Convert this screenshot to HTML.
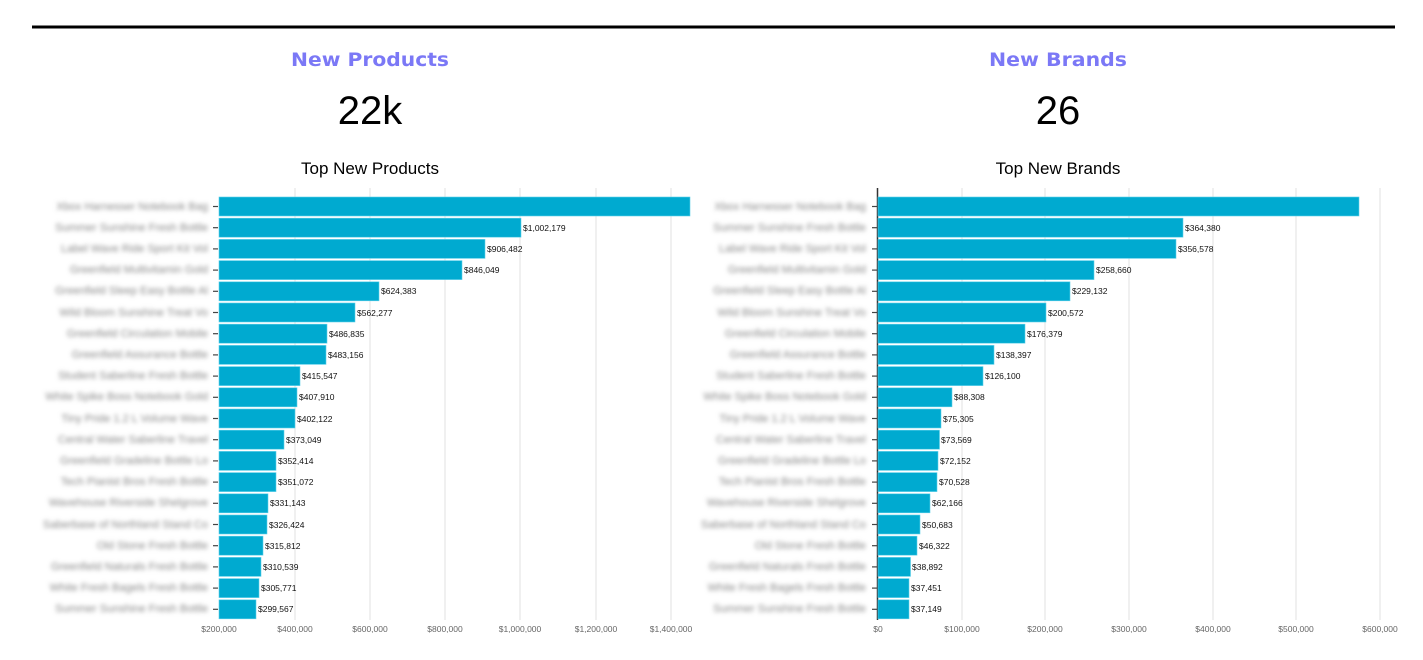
<!DOCTYPE html>
<html><head><meta charset="utf-8"><style>
body{margin:0;background:#fff;width:1423px;height:655px;overflow:hidden;font-family:"Liberation Sans",sans-serif}
</style></head><body>
<svg width="1423" height="655" xmlns="http://www.w3.org/2000/svg" font-family="Liberation Sans, sans-serif">
<defs><filter id="b" x="-10%" y="-50%" width="120%" height="200%"><feGaussianBlur stdDeviation="2.2"/></filter></defs>
<rect x="32" y="25.5" width="1363" height="3" fill="#000"/>
<text x="291" y="66" textLength="158" lengthAdjust="spacingAndGlyphs" font-family="DejaVu Sans, sans-serif" font-size="19" font-weight="bold" fill="#7b78f6">New Products</text>
<text x="989" y="66" textLength="138" lengthAdjust="spacingAndGlyphs" font-family="DejaVu Sans, sans-serif" font-size="19" font-weight="bold" fill="#7b78f6">New Brands</text>
<text x="370" y="124" text-anchor="middle" font-size="40" fill="#000">22k</text>
<text x="1058" y="124" text-anchor="middle" font-size="40" fill="#000">26</text>
<text x="370" y="174" text-anchor="middle" font-size="17" fill="#000">Top New Products</text>
<text x="1058" y="174" text-anchor="middle" font-size="17" fill="#000">Top New Brands</text>

<g stroke="#e2e2e2" stroke-width="1">
<line x1="295" y1="188" x2="295" y2="620"/><line x1="370" y1="188" x2="370" y2="620"/><line x1="445" y1="188" x2="445" y2="620"/><line x1="520" y1="188" x2="520" y2="620"/><line x1="596" y1="188" x2="596" y2="620"/><line x1="671" y1="188" x2="671" y2="620"/>
<line x1="962" y1="188" x2="962" y2="620"/><line x1="1045" y1="188" x2="1045" y2="620"/><line x1="1129" y1="188" x2="1129" y2="620"/><line x1="1213" y1="188" x2="1213" y2="620"/><line x1="1296" y1="188" x2="1296" y2="620"/><line x1="1380" y1="188" x2="1380" y2="620"/>
</g>
<g font-size="8.5" fill="#666" text-anchor="middle">
<text x="219" y="632">$200,000</text><text x="295" y="632">$400,000</text><text x="370" y="632">$600,000</text><text x="445" y="632">$800,000</text><text x="520" y="632">$1,000,000</text><text x="596" y="632">$1,200,000</text><text x="671" y="632">$1,400,000</text>
<text x="878" y="632">$0</text><text x="962" y="632">$100,000</text><text x="1045" y="632">$200,000</text><text x="1129" y="632">$300,000</text><text x="1213" y="632">$400,000</text><text x="1296" y="632">$500,000</text><text x="1380" y="632">$600,000</text>
</g>
<line x1="877.5" y1="188" x2="877.5" y2="620" stroke="#333" stroke-width="1.5"/>

<g fill="#00aad0" stroke="#5fd0ea" stroke-width="0.6">
<rect x="219" y="197" width="471" height="19"/>
<rect x="219" y="218.2" width="302" height="19"/>
<rect x="219" y="239.4" width="266" height="19"/>
<rect x="219" y="260.6" width="243" height="19"/>
<rect x="219" y="281.8" width="160" height="19"/>
<rect x="219" y="303" width="136" height="19"/>
<rect x="219" y="324.2" width="108" height="19"/>
<rect x="219" y="345.4" width="107" height="19"/>
<rect x="219" y="366.6" width="81" height="19"/>
<rect x="219" y="387.8" width="78" height="19"/>
<rect x="219" y="409" width="76" height="19"/>
<rect x="219" y="430.2" width="65" height="19"/>
<rect x="219" y="451.4" width="57" height="19"/>
<rect x="219" y="472.6" width="57" height="19"/>
<rect x="219" y="493.8" width="49" height="19"/>
<rect x="219" y="515" width="48" height="19"/>
<rect x="219" y="536.2" width="44" height="19"/>
<rect x="219" y="557.4" width="42" height="19"/>
<rect x="219" y="578.6" width="40" height="19"/>
<rect x="219" y="599.8" width="37" height="19"/>

<rect x="878" y="197" width="481" height="19"/>
<rect x="878" y="218.2" width="305" height="19"/>
<rect x="878" y="239.4" width="298" height="19"/>
<rect x="878" y="260.6" width="216" height="19"/>
<rect x="878" y="281.8" width="192" height="19"/>
<rect x="878" y="303" width="168" height="19"/>
<rect x="878" y="324.2" width="147" height="19"/>
<rect x="878" y="345.4" width="116" height="19"/>
<rect x="878" y="366.6" width="105" height="19"/>
<rect x="878" y="387.8" width="74" height="19"/>
<rect x="878" y="409" width="63" height="19"/>
<rect x="878" y="430.2" width="61.5" height="19"/>
<rect x="878" y="451.4" width="60" height="19"/>
<rect x="878" y="472.6" width="59" height="19"/>
<rect x="878" y="493.8" width="52" height="19"/>
<rect x="878" y="515" width="42" height="19"/>
<rect x="878" y="536.2" width="39" height="19"/>
<rect x="878" y="557.4" width="32.5" height="19"/>
<rect x="878" y="578.6" width="31" height="19"/>
<rect x="878" y="599.8" width="31" height="19"/>
</g>

<g font-size="8.5" fill="#111">
<text x="523" y="231">$1,002,179</text>
<text x="487" y="252">$906,482</text>
<text x="464" y="273">$846,049</text>
<text x="381" y="294">$624,383</text>
<text x="357" y="316">$562,277</text>
<text x="329" y="337">$486,835</text>
<text x="328" y="358">$483,156</text>
<text x="302" y="379">$415,547</text>
<text x="299" y="400">$407,910</text>
<text x="297" y="422">$402,122</text>
<text x="286" y="443">$373,049</text>
<text x="278" y="464">$352,414</text>
<text x="278" y="485">$351,072</text>
<text x="270" y="506">$331,143</text>
<text x="269" y="528">$326,424</text>
<text x="265" y="549">$315,812</text>
<text x="263" y="570">$310,539</text>
<text x="261" y="591">$305,771</text>
<text x="258" y="612">$299,567</text>

<text x="1185" y="231">$364,380</text>
<text x="1178" y="252">$356,578</text>
<text x="1096" y="273">$258,660</text>
<text x="1072" y="294">$229,132</text>
<text x="1048" y="316">$200,572</text>
<text x="1027" y="337">$176,379</text>
<text x="996" y="358">$138,397</text>
<text x="985" y="379">$126,100</text>
<text x="954" y="400">$88,308</text>
<text x="943" y="422">$75,305</text>
<text x="941" y="443">$73,569</text>
<text x="940" y="464">$72,152</text>
<text x="939" y="485">$70,528</text>
<text x="932" y="506">$62,166</text>
<text x="922" y="528">$50,683</text>
<text x="919" y="549">$46,322</text>
<text x="912" y="570">$38,892</text>
<text x="911" y="591">$37,451</text>
<text x="911" y="612">$37,149</text>
</g>

<g stroke="#444" stroke-width="1.2">
<line x1="213" y1="206.5" x2="218" y2="206.5"/><line x1="213" y1="227.7" x2="218" y2="227.7"/><line x1="213" y1="248.9" x2="218" y2="248.9"/><line x1="213" y1="270.1" x2="218" y2="270.1"/><line x1="213" y1="291.3" x2="218" y2="291.3"/><line x1="213" y1="312.5" x2="218" y2="312.5"/><line x1="213" y1="333.7" x2="218" y2="333.7"/><line x1="213" y1="354.9" x2="218" y2="354.9"/><line x1="213" y1="376.1" x2="218" y2="376.1"/><line x1="213" y1="397.3" x2="218" y2="397.3"/><line x1="213" y1="418.5" x2="218" y2="418.5"/><line x1="213" y1="439.7" x2="218" y2="439.7"/><line x1="213" y1="460.9" x2="218" y2="460.9"/><line x1="213" y1="482.1" x2="218" y2="482.1"/><line x1="213" y1="503.3" x2="218" y2="503.3"/><line x1="213" y1="524.5" x2="218" y2="524.5"/><line x1="213" y1="545.7" x2="218" y2="545.7"/><line x1="213" y1="566.9" x2="218" y2="566.9"/><line x1="213" y1="588.1" x2="218" y2="588.1"/><line x1="213" y1="609.3" x2="218" y2="609.3"/>
<line x1="872" y1="206.5" x2="877" y2="206.5"/><line x1="872" y1="227.7" x2="877" y2="227.7"/><line x1="872" y1="248.9" x2="877" y2="248.9"/><line x1="872" y1="270.1" x2="877" y2="270.1"/><line x1="872" y1="291.3" x2="877" y2="291.3"/><line x1="872" y1="312.5" x2="877" y2="312.5"/><line x1="872" y1="333.7" x2="877" y2="333.7"/><line x1="872" y1="354.9" x2="877" y2="354.9"/><line x1="872" y1="376.1" x2="877" y2="376.1"/><line x1="872" y1="397.3" x2="877" y2="397.3"/><line x1="872" y1="418.5" x2="877" y2="418.5"/><line x1="872" y1="439.7" x2="877" y2="439.7"/><line x1="872" y1="460.9" x2="877" y2="460.9"/><line x1="872" y1="482.1" x2="877" y2="482.1"/><line x1="872" y1="503.3" x2="877" y2="503.3"/><line x1="872" y1="524.5" x2="877" y2="524.5"/><line x1="872" y1="545.7" x2="877" y2="545.7"/><line x1="872" y1="566.9" x2="877" y2="566.9"/><line x1="872" y1="588.1" x2="877" y2="588.1"/><line x1="872" y1="609.3" x2="877" y2="609.3"/>
</g>

<g font-size="11" fill="#888" text-anchor="end" filter="url(#b)">
<text x="208" y="210">Xbox Harnesser Notebook Bag</text>
<text x="208" y="231">Summer Sunshine Fresh Bottle</text>
<text x="208" y="252">Label Wave Ride Sport Kit Vol</text>
<text x="208" y="273">Greenfield Multivitamin Gold</text>
<text x="208" y="294">Greenfield Sleep Easy Bottle Al</text>
<text x="208" y="316">Wild Bloom Sunshine Treat Vo</text>
<text x="208" y="337">Greenfield Circulation Mobile</text>
<text x="208" y="358">Greenfield Assurance Bottle</text>
<text x="208" y="379">Student Saberline Fresh Bottle</text>
<text x="208" y="400">White Spike Boss Notebook Gold</text>
<text x="208" y="422">Tiny Pride 1.2 L Volume Wave</text>
<text x="208" y="443">Central Water Saberline Travel</text>
<text x="208" y="464">Greenfield Gradeline Bottle Lo</text>
<text x="208" y="485">Tech Pianist Bros Fresh Bottle</text>
<text x="208" y="506">Wavehouse Riverside Shelgrove</text>
<text x="208" y="528">Saberbase of Northland Stand Co</text>
<text x="208" y="549">Old Stone Fresh Bottle</text>
<text x="208" y="570">Greenfield Naturals Fresh Bottle</text>
<text x="208" y="591">White Fresh Bagels Fresh Bottle</text>
<text x="208" y="612">Summer Sunshine Fresh Bottle</text>
<text x="866" y="210">Xbox Harnesser Notebook Bag</text>
<text x="866" y="231">Summer Sunshine Fresh Bottle</text>
<text x="866" y="252">Label Wave Ride Sport Kit Vol</text>
<text x="866" y="273">Greenfield Multivitamin Gold</text>
<text x="866" y="294">Greenfield Sleep Easy Bottle Al</text>
<text x="866" y="316">Wild Bloom Sunshine Treat Vo</text>
<text x="866" y="337">Greenfield Circulation Mobile</text>
<text x="866" y="358">Greenfield Assurance Bottle</text>
<text x="866" y="379">Student Saberline Fresh Bottle</text>
<text x="866" y="400">White Spike Boss Notebook Gold</text>
<text x="866" y="422">Tiny Pride 1.2 L Volume Wave</text>
<text x="866" y="443">Central Water Saberline Travel</text>
<text x="866" y="464">Greenfield Gradeline Bottle Lo</text>
<text x="866" y="485">Tech Pianist Bros Fresh Bottle</text>
<text x="866" y="506">Wavehouse Riverside Shelgrove</text>
<text x="866" y="528">Saberbase of Northland Stand Co</text>
<text x="866" y="549">Old Stone Fresh Bottle</text>
<text x="866" y="570">Greenfield Naturals Fresh Bottle</text>
<text x="866" y="591">White Fresh Bagels Fresh Bottle</text>
<text x="866" y="612">Summer Sunshine Fresh Bottle</text>
</g>
</svg>
</body></html>
